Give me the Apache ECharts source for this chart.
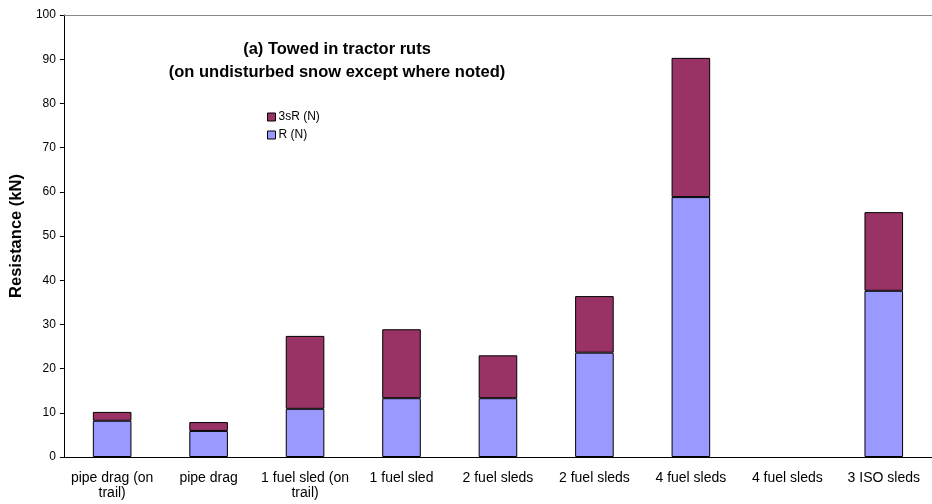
<!DOCTYPE html>
<html>
<head>
<meta charset="utf-8">
<script src="https://cdn.jsdelivr.net/npm/echarts@6/dist/echarts.min.js"></script>
<style>html,body{margin:0;padding:0;background:#fff}#c{width:932px;height:504px}</style>
</head>
<body>
<div id="c"></div>
<script>
const categories = ['pipe drag (on\ntrail)', 'pipe drag', '1 fuel sled (on\ntrail)', '1 fuel sled', '2 fuel sleds', '2 fuel sleds', '4 fuel sleds', '4 fuel sleds', '3 ISO sleds'];
const rValues = [8.2, 5.9, 10.9, 13.3, 13.3, 23.6, 58.8, null, 37.6];
const threeSRValues = [2.0, 2.0, 16.5, 15.6, 9.7, 12.8, 31.5, null, 17.8];
const yTicks = { min: 0, max: 100, interval: 10 };
const titleLines = ['(a) Towed in tractor ruts', '(on undisturbed snow except where noted)'];

const chart = echarts.init(document.getElementById('c'));
const font = 'Liberation Sans, Arial, Helvetica, sans-serif';
chart.setOption({
  animation: false,
  backgroundColor: '#fff',
  textStyle: { fontFamily: font },
  graphic: [{
    type: 'text', x: 337, y: 38,
    style: { text: titleLines.join('\n'), textAlign: 'center', fontFamily: font, fontSize: 16.5, fontWeight: 'bold', lineHeight: 23, fill: '#000' }
  }],
  legend: {
    left: 262, top: 106, orient: 'vertical', itemWidth: 8, itemHeight: 8, itemGap: 6,
    icon: 'rect',
    data: ['3sR (N)', 'R (N)'],
    textStyle: { fontFamily: font, fontSize: 12, color: '#000', padding: [0, 0, 0, -2] },
    itemStyle: { borderColor: '#000', borderWidth: 1 }
  },
  grid: { left: 62, top: 15, width: 877, bottom: 47, containLabel: false },
  xAxis: [{
    type: 'category', data: categories,
    axisLine: { lineStyle: { color: '#000', width: 1 } },
    axisTick: { length: 5, lineStyle: { color: '#000' } },
    axisLabel: { color: '#000', fontSize: 14, lineHeight: 15, margin: 14, interval: 0, fontFamily: font }
  }, {
    type: 'category', data: categories, position: 'top',
    axisLine: { lineStyle: { color: '#888', width: 1 } },
    axisTick: { show: false }, axisLabel: { show: false }
  }],
  yAxis: {
    type: 'value', min: yTicks.min, max: yTicks.max, interval: yTicks.interval,
    name: 'Resistance (kN)', nameLocation: 'middle', nameGap: 37,
    nameTextStyle: { fontFamily: font, fontSize: 16.5, fontWeight: 'bold', color: '#000' },
    axisLine: { show: true, lineStyle: { color: '#000' } },
    axisTick: { show: true, length: 4, lineStyle: { color: '#000' } },
    axisLabel: { color: '#000', fontSize: 12, margin: 8, fontFamily: font },
    splitLine: { show: false }
  },
  series: [{
    name: 'R (N)', type: 'bar', stack: 'a', data: rValues, barWidth: '40%',
    itemStyle: { color: '#9999FF', borderColor: '#000', borderWidth: 1 }
  }, {
    name: '3sR (N)', type: 'bar', stack: 'a', data: threeSRValues, barWidth: '40%',
    itemStyle: { color: '#993366', borderColor: '#000', borderWidth: 1 }
  }]
});
</script>
</body>
</html>
